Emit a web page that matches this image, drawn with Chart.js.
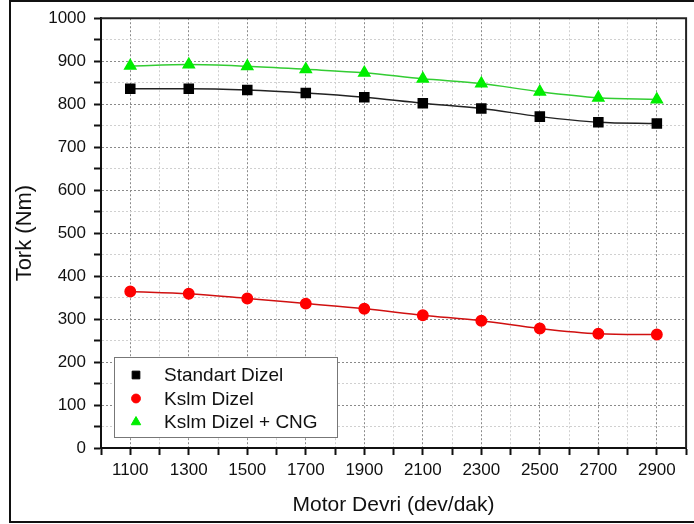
<!DOCTYPE html>
<html>
<head>
<meta charset="utf-8">
<title>Tork - Motor Devri</title>
<script src="https://cdn.jsdelivr.net/npm/chart.js@4/dist/chart.umd.min.js"></script>
<style>
  html, body { margin: 0; padding: 0; background: #fff; }
  #torkChart { display: block; }
</style>
</head>
<body>
<canvas id="torkChart" width="694" height="524"></canvas>
<script>
'use strict';

// #region ***  Data                                     ***********
const rpm = [1100, 1300, 1500, 1700, 1900, 2100, 2300, 2500, 2700, 2900];
const standartDizel = [836, 836, 833, 826, 816, 802, 790, 771, 758, 755];
const kslmDizel = [364, 359, 348, 336, 324, 309, 296, 278, 266, 264];
const kslmDizelCng = [889, 892, 888, 881, 873, 859, 848, 829, 815, 811];
const seriesLabels = ['Standart Dizel', 'Kslm Dizel', 'Kslm Dizel + CNG'];
const xTicks = [1000, 1100, 1200, 1300, 1400, 1500, 1600, 1700, 1800, 1900, 2000,
  2100, 2200, 2300, 2400, 2500, 2600, 2700, 2800, 2900, 3000];
const xLabelled = [1100, 1300, 1500, 1700, 1900, 2100, 2300, 2500, 2700, 2900];
// #endregion

const fontFamily = '"Liberation Sans", Arial, sans-serif';

const toPoints = function (values) {
  return rpm.map((r, i) => ({ x: r, y: values[i] }));
};

// #region ***  Plugins                                  ***********
const framePlugin = {
  id: 'frame',
  beforeDraw(chart) {
    const ctx = chart.ctx;
    ctx.save();
    ctx.fillStyle = '#fff';
    ctx.fillRect(0, 0, chart.width, chart.height);
    ctx.strokeStyle = '#111';
    ctx.lineWidth = 2;
    ctx.strokeRect(10, 1, chart.width + 10, chart.height - 3);
    ctx.restore();
  },
  afterDraw(chart) {
    const { ctx, chartArea } = chart;
    ctx.save();
    ctx.strokeStyle = '#222';
    ctx.lineWidth = 2;
    ctx.beginPath();
    ctx.moveTo(chartArea.left, chartArea.top);
    ctx.lineTo(chartArea.right, chartArea.top);
    ctx.lineTo(chartArea.right, chartArea.bottom);
    ctx.stroke();
    ctx.restore();
  }
};

const legendBoxPlugin = {
  id: 'legendBox',
  afterDatasetsDraw(chart) {
    const ctx = chart.ctx;
    const box = { x: 114, y: 357, w: 223, h: 80 };
    ctx.save();
    ctx.fillStyle = '#fff';
    ctx.fillRect(box.x, box.y, box.w, box.h);
    ctx.strokeStyle = '#777';
    ctx.lineWidth = 1;
    ctx.strokeRect(box.x + 0.5, box.y + 0.5, box.w, box.h);
    ctx.font = '19px ' + fontFamily;
    ctx.textBaseline = 'middle';
    chart.data.datasets.forEach(function (ds, i) {
      const cy = box.y + 18 + i * 23.5;
      ctx.fillStyle = ds.pointBackgroundColor;
      ctx.strokeStyle = ds.pointBorderColor;
      Chart.helpers.drawPoint(ctx, {
        pointStyle: ds.pointStyle,
        radius: ds.pointRadius * 0.85,
        borderWidth: 1,
        rotation: 0
      }, 136, cy);
      ctx.fillStyle = '#111';
      ctx.fillText(ds.label, 164, cy + 1);
    });
    ctx.restore();
  }
};
// #endregion

// #region ***  Chart                                    ***********
const makeDataset = function (label, values, color, lineColor, style, radius) {
  return {
    label: label,
    data: toPoints(values),
    borderColor: lineColor,
    backgroundColor: color,
    pointBackgroundColor: color,
    pointBorderColor: color,
    pointStyle: style,
    pointRadius: radius,
    pointHoverRadius: radius,
    borderWidth: 1.5,
    cubicInterpolationMode: 'monotone',
    showLine: true
  };
};

const data = {
  datasets: [
    makeDataset(seriesLabels[0], standartDizel, '#000000', '#222222', 'rect', 6.4),
    makeDataset(seriesLabels[1], kslmDizel, '#ff0000', '#d01010', 'circle', 5.2),
    makeDataset(seriesLabels[2], kslmDizelCng, '#00ee00', '#33cc33', 'triangle', 6.4)
  ]
};

const config = {
  type: 'scatter',
  data: data,
  options: {
    responsive: false,
    animation: false,
    layout: { padding: { left: 0, top: 16, right: 3, bottom: 0 } },
    plugins: {
      legend: { display: false },
      tooltip: { enabled: false }
    },
    scales: {
      x: {
        type: 'linear',
        min: 1000,
        max: 3000,
        afterBuildTicks: function (scale) {
          scale.ticks = xTicks.map(v => ({ value: v }));
        },
        afterFit: function (scale) {
          scale.height = 76;
        },
        ticks: {
          autoSkip: false,
          maxRotation: 0,
          padding: 5,
          color: '#111',
          font: { family: fontFamily, size: 17 },
          callback: function (value) {
            return xLabelled.includes(value) ? String(value) : '';
          }
        },
        grid: {
          color: function (c) {
            return xLabelled.includes(c.tick && c.tick.value) ? '#8a8a8a' : '#d0d0d0';
          },
          lineWidth: 1,
          tickColor: '#111',
          tickWidth: 2,
          tickLength: 7
        },
        border: { color: '#111', width: 2, dash: [2, 2] },
        title: {
          display: true,
          text: 'Motor Devri (dev/dak)',
          color: '#111',
          font: { family: fontFamily, size: 21 },
          padding: { top: 0, bottom: 6 }
        }
      },
      y: {
        min: 0,
        max: 1000,
        afterFit: function (scale) {
          scale.width = 101;
        },
        ticks: {
          stepSize: 50,
          autoSkip: false,
          padding: 8,
          color: '#111',
          font: { family: fontFamily, size: 17 },
          callback: function (value) {
            return value % 100 === 0 ? String(value) : '';
          }
        },
        grid: {
          color: function (c) {
            return c.tick && c.tick.value % 100 === 0 ? '#8a8a8a' : '#d0d0d0';
          },
          lineWidth: 1,
          tickColor: '#111',
          tickWidth: 2,
          tickLength: 7
        },
        border: { color: '#111', width: 2, dash: [2, 2] },
        title: {
          display: true,
          text: 'Tork (Nm)',
          color: '#111',
          font: { family: fontFamily, size: 22 },
          padding: { top: 12, bottom: 0 }
        }
      }
    }
  },
  plugins: [framePlugin, legendBoxPlugin]
};

const init = function () {
  const ctx = document.getElementById('torkChart').getContext('2d');
  new Chart(ctx, config);
};

document.addEventListener('DOMContentLoaded', init);
// #endregion
</script>
</body>
</html>
